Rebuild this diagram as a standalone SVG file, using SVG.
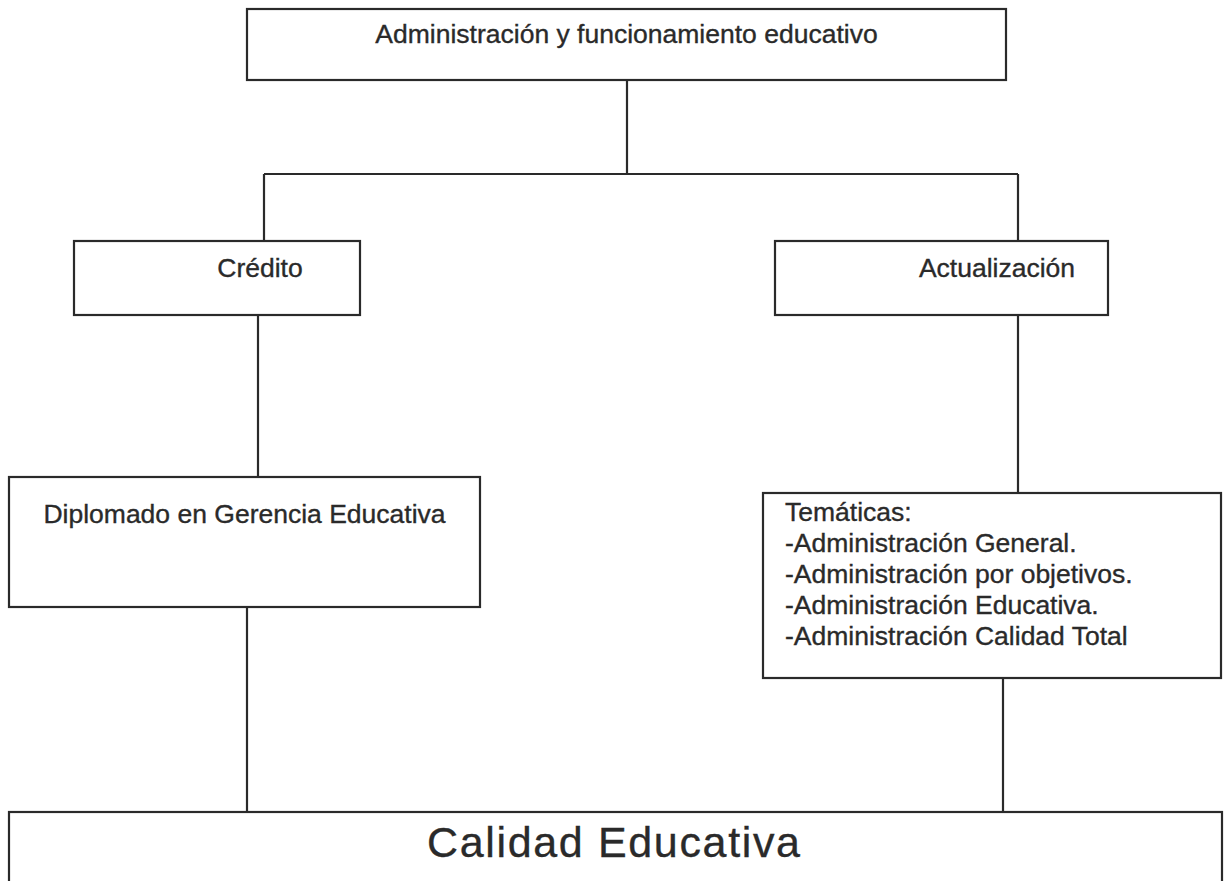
<svg xmlns="http://www.w3.org/2000/svg" width="1227" height="881" viewBox="0 0 1227 881">
<style>
.box{fill:#fff;stroke:#2a2a2a;stroke-width:2.2}
.ln{fill:none;stroke:#2a2a2a;stroke-width:2.2}
.t{font-family:"Liberation Sans",Arial,sans-serif;font-size:26.5px;fill:#2a2a2a;stroke:#2a2a2a;stroke-width:0.35}
.c{text-anchor:middle}
</style>
<rect width="1227" height="881" fill="#fff"/>
<g id="connectors">
<path class="ln" d="M627,80 V174 M264,174 H1018 M264,174 V241 M1018,174 V241"/>
<path class="ln" d="M258,315 V477"/>
<path class="ln" d="M1018,315 V493"/>
<path class="ln" d="M247,607 V812"/>
<path class="ln" d="M1003,678 V812"/>
</g>
<g id="n-admin">
<rect class="box" x="247" y="9" width="759" height="71"/>
<text class="t c" x="626.5" y="43">Administración y funcionamiento educativo</text>
</g>
<g id="n-credito">
<rect class="box" x="74" y="241" width="286" height="74"/>
<text class="t c" x="260" y="277">Crédito</text>
</g>
<g id="n-actualizacion">
<rect class="box" x="775" y="241" width="333" height="74"/>
<text class="t c" x="997" y="277">Actualización</text>
</g>
<g id="n-diplomado">
<rect class="box" x="9" y="477" width="471" height="130"/>
<text class="t c" x="244.5" y="523">Diplomado en Gerencia Educativa</text>
</g>
<g id="n-tematicas">
<rect class="box" x="763" y="493" width="458" height="185"/>
<text class="t" x="785" y="521">Temáticas:</text>
<text class="t" x="785" y="552">-Administración General.</text>
<text class="t" x="785" y="583">-Administración por objetivos.</text>
<text class="t" x="785" y="614">-Administración Educativa.</text>
<text class="t" x="785" y="645">-Administración Calidad Total</text>
</g>
<g id="n-calidad">
<rect class="box" x="9" y="812" width="1213" height="100"/>
<text class="t" x="427" y="857" style="font-size:43px" textLength="373">Calidad Educativa</text>
</g>
</svg>
